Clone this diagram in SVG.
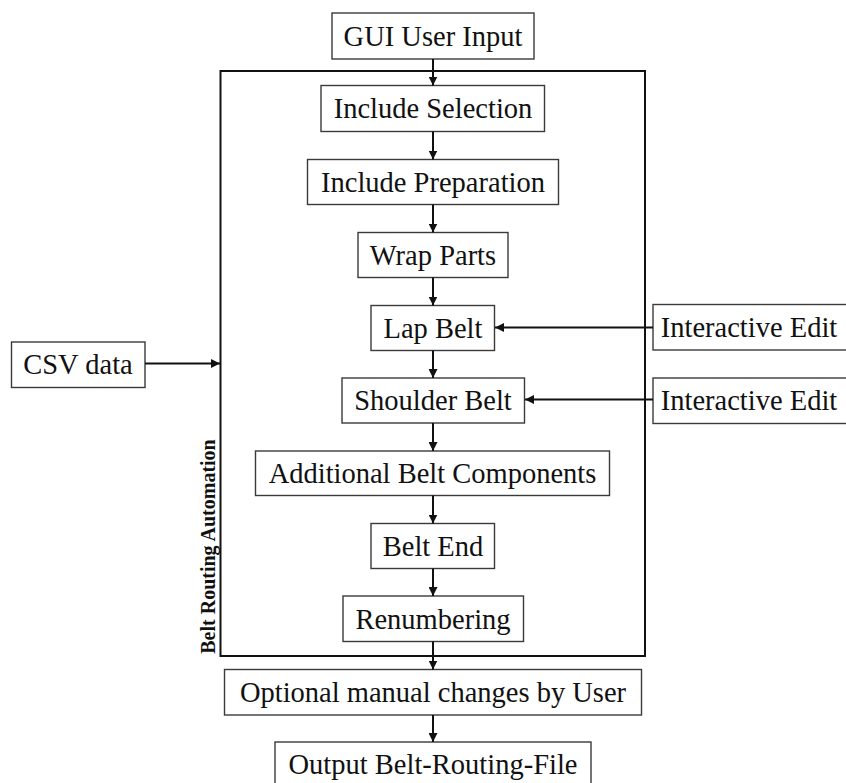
<svg xmlns="http://www.w3.org/2000/svg" width="846" height="783" viewBox="0 0 846 783">
  <style>
    .box { fill: #ffffff; stroke: #3a3a3a; stroke-width: 1.4; }
    .label { font-family: "Liberation Serif", "Times New Roman", Times, "Nimbus Roman", "DejaVu Serif", serif; font-size: 28.5px; font-weight: normal; fill: #111111; text-anchor: middle; }
    .frame { fill: none; stroke: #111111; stroke-width: 2; }
    .edge { fill: none; stroke: #111111; stroke-width: 2; marker-end: url(#arrow); }
    .title { font-family: "Liberation Serif", "Times New Roman", Times, "DejaVu Serif", serif; font-size: 20px; font-weight: bold; fill: #111111; text-anchor: middle; }
  </style>
  <defs>
    <marker id="arrow" viewBox="0 0 10 10" refX="10" refY="5" markerWidth="4.5" markerHeight="4.5" markerUnits="strokeWidth" orient="auto">
      <path d="M0,0 L10,5 L0,10 Z" fill="#111111"/>
    </marker>
  </defs>
  <rect width="846" height="783" fill="#ffffff"/>

  <!-- automation frame -->
  <g id="automation">
    <rect class="frame" x="220.5" y="71" width="424.5" height="585"/>
    <text class="title" transform="translate(215,546.5) rotate(-90)">Belt Routing Automation</text>
  </g>

  <g id="gui-input">
    <rect class="box" x="332" y="13" width="202" height="46"/>
    <text class="label" x="433" y="45.5">GUI User Input</text>
  </g>
  <g id="include-selection">
    <rect class="box" x="321" y="85.5" width="223.5" height="46"/>
    <text class="label" x="433" y="118">Include Selection</text>
  </g>
  <g id="include-preparation">
    <rect class="box" x="307.5" y="159.5" width="251" height="45"/>
    <text class="label" x="433" y="191.5">Include Preparation</text>
  </g>
  <g id="wrap-parts">
    <rect class="box" x="358" y="232.5" width="150" height="45"/>
    <text class="label" x="433" y="264.5">Wrap Parts</text>
  </g>
  <g id="lap-belt">
    <rect class="box" x="371" y="305.5" width="123.5" height="45"/>
    <text class="label" x="433" y="337.5">Lap Belt</text>
  </g>
  <g id="shoulder-belt">
    <rect class="box" x="342" y="378" width="182.5" height="45"/>
    <text class="label" x="433" y="410">Shoulder Belt</text>
  </g>
  <g id="additional-components">
    <rect class="box" x="255.5" y="451" width="354" height="44.5"/>
    <text class="label" x="432.5" y="483">Additional Belt Components</text>
  </g>
  <g id="belt-end">
    <rect class="box" x="371" y="523.5" width="123.5" height="45"/>
    <text class="label" x="433" y="555.5">Belt End</text>
  </g>
  <g id="renumbering">
    <rect class="box" x="343" y="596" width="180.5" height="45.5"/>
    <text class="label" x="433" y="628.5">Renumbering</text>
  </g>
  <g id="manual-changes">
    <rect class="box" x="224.5" y="669.5" width="417" height="45.5"/>
    <text class="label" x="433" y="702">Optional manual changes by User</text>
  </g>
  <g id="output-file">
    <rect class="box" x="275" y="742" width="316" height="46"/>
    <text class="label" x="433" y="774">Output Belt-Routing-File</text>
  </g>
  <g id="csv-data">
    <rect class="box" x="11.5" y="342" width="133.5" height="45.5"/>
    <text class="label" x="78" y="374">CSV data</text>
  </g>
  <g id="interactive-edit-lap">
    <rect class="box" x="653" y="304.5" width="200" height="45.5"/>
    <text class="label" x="749" y="337">Interactive Edit</text>
  </g>
  <g id="interactive-edit-shoulder">
    <rect class="box" x="653" y="378" width="200" height="45.5"/>
    <text class="label" x="749" y="410">Interactive Edit</text>
  </g>

  <!-- connectors -->
  <g id="connectors">
    <line class="edge" x1="433" y1="59" x2="433" y2="85.5"/>
    <line class="edge" x1="433" y1="131.5" x2="433" y2="159.5"/>
    <line class="edge" x1="433" y1="204.5" x2="433" y2="232.5"/>
    <line class="edge" x1="433" y1="277.5" x2="433" y2="305.5"/>
    <line class="edge" x1="433" y1="350.5" x2="433" y2="378"/>
    <line class="edge" x1="433" y1="423" x2="433" y2="451"/>
    <line class="edge" x1="433" y1="495.5" x2="433" y2="523.5"/>
    <line class="edge" x1="433" y1="568.5" x2="433" y2="596"/>
    <line class="edge" x1="433" y1="641.5" x2="433" y2="669.5"/>
    <line class="edge" x1="433" y1="715" x2="433" y2="742"/>
    <line class="edge" x1="145" y1="363.5" x2="220" y2="363.5"/>
    <line class="edge" x1="653" y1="327.5" x2="495" y2="327.5"/>
    <line class="edge" x1="653" y1="399.5" x2="525" y2="399.5"/>
  </g>
</svg>
